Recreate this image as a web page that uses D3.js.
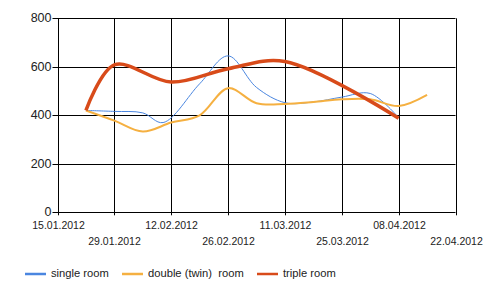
<!DOCTYPE html>
<html>
<head>
<meta charset="utf-8">
<script src="https://cdn.jsdelivr.net/npm/d3@7"></script>
<style>
    body { margin: 0; background: #fff; }
    svg { font-family: Arial, "Liberation Sans", sans-serif; }
    .grid line, .grid path { stroke: #000; }
    .legend text { white-space: pre; }
</style>
</head>
<body>
<svg id="chart" width="500" height="296"></svg>
<script>
// Tick dates on the x-axis (every two weeks)
const tickDates = ["15.01.2012", "29.01.2012", "12.02.2012", "26.02.2012",
    "11.03.2012", "25.03.2012", "08.04.2012", "22.04.2012"];
const yTicks = [0, 200, 400, 600, 800];

// Series: dates and values
const singleDates = ["22.01.2012", "29.01.2012", "05.02.2012", "10.02.2012", "19.02.2012",
    "26.02.2012", "04.03.2012", "11.03.2012", "18.03.2012", "25.03.2012", "01.04.2012", "08.04.2012"];
const singleValues = [420, 416, 410, 370, 530, 645, 515, 452, 455, 475, 490, 390];

const doubleDates = ["22.01.2012", "29.01.2012", "05.02.2012", "12.02.2012", "19.02.2012",
    "26.02.2012", "04.03.2012", "11.03.2012", "18.03.2012", "25.03.2012", "01.04.2012",
    "08.04.2012", "15.04.2012"];
const doubleValues = [420, 378, 333, 370, 400, 512, 450, 447, 455, 466, 466, 438, 484];

const tripleDates = ["22.01.2012", "29.01.2012", "12.02.2012", "26.02.2012", "11.03.2012", "08.04.2012"];
const tripleValues = [420, 608, 537, 592, 622, 388];

const seriesNames = ["single room", "double (twin)  room", "triple room"];
const seriesColors = ["#4a86e0", "#f5b041", "#d84b1a"];
const seriesWidths = [1, 2, 3.5];

const parseDate = d3.timeParse("%d.%m.%Y");

const series = [
    { name: seriesNames[0], dates: singleDates, values: singleValues },
    { name: seriesNames[1], dates: doubleDates, values: doubleValues },
    { name: seriesNames[2], dates: tripleDates, values: tripleValues }
].map((s, i) => ({
    ...s,
    color: seriesColors[i],
    width: seriesWidths[i],
    points: s.dates.map((d, j) => ({ date: parseDate(d), value: s.values[j] }))
}));

const svg = d3.select("#chart");
const margin = { left: 57.5, right: 44.5, top: 18.3, bottom: 83.7 };
const width = 500 - margin.left - margin.right;
const height = 296 - margin.top - margin.bottom;

const x = d3.scaleTime()
    .domain([parseDate(tickDates[0]), parseDate(tickDates[tickDates.length - 1])])
    .range([margin.left, margin.left + width]);
const y = d3.scaleLinear()
    .domain([0, 800])
    .range([margin.top + height, margin.top]);

// Horizontal gridlines + y labels
const yGrid = svg.append("g").attr("class", "grid");
yGrid.selectAll("line")
    .data(yTicks)
    .enter().append("line")
    .attr("x1", margin.left - 5)
    .attr("x2", margin.left + width)
    .attr("y1", d => Math.round(y(d)) + 0.5)
    .attr("y2", d => Math.round(y(d)) + 0.5);
yGrid.selectAll("text")
    .data(yTicks)
    .enter().append("text")
    .attr("x", margin.left - 6)
    .attr("y", d => Math.round(y(d)) + 0.5)
    .attr("text-anchor", "end")
    .attr("dominant-baseline", "middle")
    .attr("font-size", 12.5)
    .attr("fill", "#222")
    .text(d => d);

// Vertical gridlines + x labels on two rows
const xGrid = svg.append("g").attr("class", "grid");
xGrid.selectAll("line")
    .data(tickDates)
    .enter().append("line")
    .attr("x1", d => Math.round(x(parseDate(d))) + 0.5)
    .attr("x2", d => Math.round(x(parseDate(d))) + 0.5)
    .attr("y1", margin.top)
    .attr("y2", margin.top + height + 3);
xGrid.selectAll("text")
    .data(tickDates)
    .enter().append("text")
    .attr("x", d => Math.round(x(parseDate(d))) + 0.5)
    .attr("y", (d, i) => i % 2 === 0 ? 229 : 245)
    .attr("text-anchor", "middle")
    .attr("font-size", 10.5)
    .attr("fill", "#222")
    .text(d => d);

// Lines
const line = d3.line()
    .x(d => x(d.date))
    .y(d => y(d.value))
    .curve(d3.curveCatmullRom.alpha(0.5));

svg.selectAll(".series")
    .data(series)
    .enter().append("path")
    .attr("class", "series")
    .attr("fill", "none")
    .attr("stroke", d => d.color)
    .attr("stroke-width", d => d.width)
    .attr("stroke-linejoin", "round")
    .attr("d", d => line(d.points));

// Legend
const legendX = [25, 122, 257];
const legend = svg.selectAll(".legend")
    .data(series)
    .enter().append("g")
    .attr("class", "legend")
    .attr("transform", (d, i) => `translate(${legendX[i]},274)`);
legend.append("line")
    .attr("x1", 0).attr("x2", 21)
    .attr("stroke", d => d.color)
    .attr("stroke-width", 2.5);
legend.append("text")
    .attr("x", 26)
    .attr("dominant-baseline", "middle")
    .attr("font-size", 11.2)
    .attr("fill", "#222")
    .text(d => d.name);
</script>
</body>
</html>
